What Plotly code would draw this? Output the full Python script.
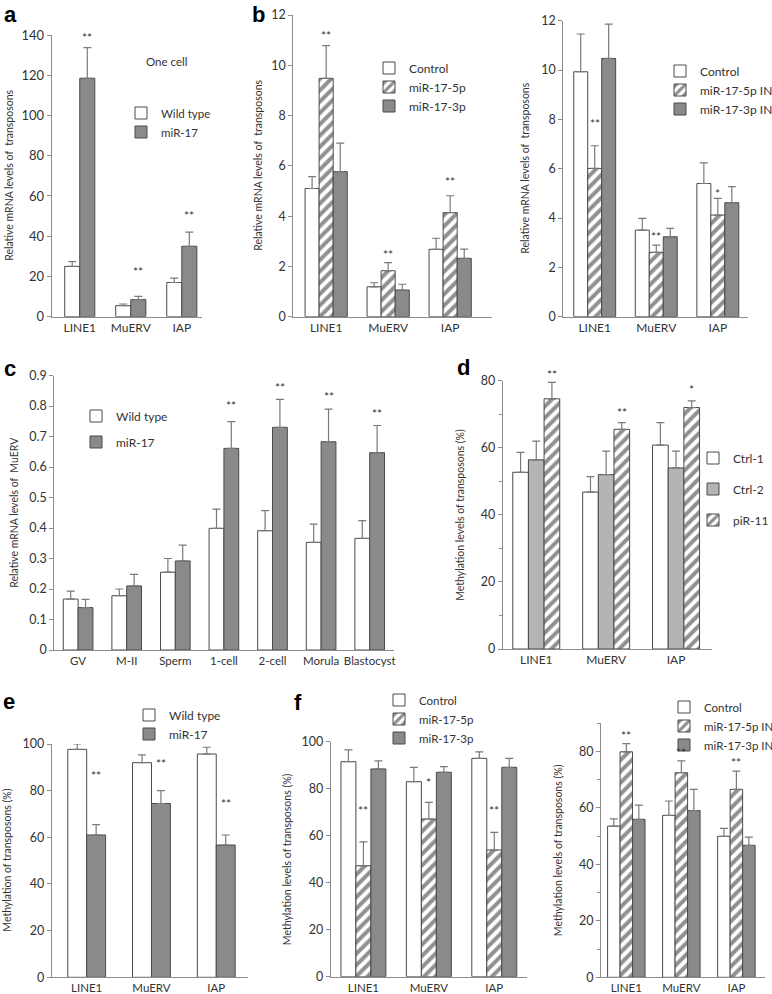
import plotly.graph_objects as go

W, H = 772, 994
FONT = "Lato"
TXT = "#333333"
AXC = "#8c8c8c"
EDGE = "#4a4a4a"

# ---------------- data ----------------
genes = ["LINE1", "MuERV", "IAP"]
stages = ["GV", "M-II", "Sperm", "1-cell", "2-cell", "Morula", "Blastocyst"]

# panel a
a_names = ["Wild type", "miR-17"]
a_wt = [25, 5.5, 17]
a_wt_err = [2.4, 0.8, 2.2]
a_mir = [118.5, 8.5, 35]
a_mir_err = [15.2, 1.6, 7.0]
a_star = ["**", "**", "**"]
a_star_y = [140, 24, 52]

# panel b (left)
bl_names = ["Control", "miR-17-5p", "miR-17-3p"]
bl_ctrl = [5.1, 1.19, 2.68]
bl_ctrl_err = [0.47, 0.16, 0.44]
bl_5p = [9.48, 1.83, 4.14]
bl_5p_err = [1.3, 0.32, 0.67]
bl_3p = [5.77, 1.06, 2.32]
bl_3p_err = [1.13, 0.23, 0.37]
bl_star = ["**", "**", "**"]
bl_star_y = [11.3, 2.6, 5.5]

# panel b (right)
br_names = ["Control", "miR-17-5p IN", "miR-17-3p IN"]
br_ctrl = [9.93, 3.51, 5.4]
br_ctrl_err = [1.53, 0.48, 0.84]
br_5p = [6.01, 2.61, 4.12]
br_5p_err = [0.92, 0.29, 0.68]
br_3p = [10.47, 3.24, 4.62]
br_3p_err = [1.39, 0.34, 0.65]
br_star = ["**", "**", "*"]
br_star_y = [7.95, 3.38, 5.1]

# panel c
c_names = ["Wild type", "miR-17"]
c_wt = [0.167, 0.178, 0.255, 0.399, 0.391, 0.353, 0.366]
c_wt_err = [0.026, 0.022, 0.045, 0.063, 0.066, 0.06, 0.058]
c_mir = [0.139, 0.21, 0.292, 0.661, 0.73, 0.683, 0.647]
c_mir_err = [0.027, 0.038, 0.052, 0.088, 0.092, 0.107, 0.089]
c_star = ["", "", "", "**", "**", "**", "**"]
c_star_y = [0, 0, 0, 0.81, 0.87, 0.84, 0.785]

# panel d
d_names = ["Ctrl-1", "Ctrl-2", "piR-11"]
d_c1 = [52.7, 46.8, 60.8]
d_c1_err = [5.9, 4.6, 6.7]
d_c2 = [56.4, 52, 54]
d_c2_err = [5.6, 7, 5]
d_pir = [74.6, 65.5, 72]
d_pir_err = [4.9, 2, 2]
d_star = ["**", "**", "*"]
d_star_y = [82.7, 71.3, 78.2]

# panel e
e_names = ["Wild type", "miR-17"]
e_wt = [97.7, 92, 95.7]
e_wt_err = [2.3, 3.3, 2.9]
e_mir = [61, 74.5, 56.7]
e_mir_err = [4.4, 5.5, 4.3]
e_star = ["**", "**", "**"]
e_star_y = [87.7, 93, 75.7]

# panel f (left)
fl_names = ["Control", "miR-17-5p", "miR-17-3p"]
fl_ctrl = [91.5, 83, 92.9]
fl_ctrl_err = [5, 6.1, 2.8]
fl_5p = [47.2, 67.1, 53.9]
fl_5p_err = [10.2, 7.1, 7.5]
fl_3p = [88.4, 87, 89.1]
fl_3p_err = [3.4, 2.4, 3.8]
fl_star = ["**", "*", "**"]
fl_star_y = [72, 84, 72]

# panel f (right)
fr_names = ["Control", "miR-17-5p IN", "miR-17-3p IN"]
fr_ctrl = [53.5, 57.3, 49.9]
fr_ctrl_err = [2.6, 5.1, 2.8]
fr_5p = [79.8, 72.4, 66.5]
fr_5p_err = [2.9, 4.2, 6.5]
fr_3p = [55.9, 59, 46.7]
fr_3p_err = [5, 7.5, 2.9]
fr_star = ["**", "**", "**"]
fr_star_y = [86.6, 80.7, 77.2]

# ---------------- styles ----------------
def style(kind):
    line = dict(color=EDGE, width=1)
    if kind == "white":
        return dict(color="white", line=line)
    if kind == "gray":
        return dict(color="#8a8a8a", line=line)
    if kind == "light":
        return dict(color="#b4b4b4", line=line)
    return dict(color="white", line=line,
                pattern=dict(shape="/", fgcolor="#222222", bgcolor="white",
                             size=8, solidity=0.5))

fig = go.Figure()
annotations = []
layout = dict(width=W, height=H,
              margin=dict(l=0, r=0, t=0, b=0, pad=0, autoexpand=False),
              paper_bgcolor="white", plot_bgcolor="white", showlegend=True,
              barmode="overlay", font=dict(family=FONT, color=TXT))


def add_panel(k, cats, series, xpx, ypx, xrange, yrange, dtick, bw,
              stars, star_y, star_idx, ytitle, title_x, leg, tickfs=12.5,
              titlefs=10.5, xfs=12, minor=False, legfs=12, leggap=0,
              legdx=34):
    ax = "" if k == 1 else str(k)
    xa, ya = "x" + ax, "y" + ax
    lg = "legend" + ax
    n = len(series)
    x0, x1 = xpx
    y0, y1 = ypx
    ppu = (y1 - y0) / (yrange[1] - yrange[0])
    for i, (name, vals, errs, kind) in enumerate(series):
        off = -n * bw / 2 + i * bw
        fig.add_trace(go.Bar(
            x=cats, y=vals, name=name, width=bw, offset=off,
            marker=style(kind), xaxis=xa, yaxis=ya, legend=lg,
            legendgroup=f"{k}-{i}",
            error_y=dict(type="data", array=errs, arrayminus=[0] * len(errs),
                         symmetric=False, color="#7a7a7a", thickness=1.2,
                         width=4)))
    # significance stars
    for j, (s, sy) in enumerate(zip(stars, star_y)):
        if not s:
            continue
        cx = j - n * bw / 2 + (star_idx + 0.5) * bw
        ytop = min(sy, yrange[1])
        annotations.append(dict(x=cx, y=ytop, xref=xa, yref=ya, text=s,
                                showarrow=False, xanchor="center",
                                yanchor="middle",
                                yshift=-3 + (sy - ytop) * ppu,
                                font=dict(size=12, color=TXT)))
    layout["xaxis" + ax] = dict(
        domain=[x0 / W, x1 / W], anchor=ya, range=xrange, type="category",
        showline=True, linecolor=AXC, linewidth=1, ticks="", showgrid=False,
        zeroline=False, tickangle=0, automargin=False,
        tickfont=dict(size=xfs, color=TXT))
    yax = dict(domain=[1 - y1 / H, 1 - y0 / H], anchor=xa, range=yrange,
               dtick=dtick, tick0=0, showline=True, linecolor=AXC, linewidth=1,
               ticks="outside", ticklen=4, tickcolor=AXC, showgrid=False,
               zeroline=False, automargin=False,
               tickfont=dict(size=tickfs, color=TXT))
    if minor:
        yax["minor"] = dict(ticks="outside", ticklen=3, dtick=dtick / 2,
                            tickcolor=AXC)
    layout["yaxis" + ax] = yax
    annotations.append(dict(x=title_x / W, y=1 - (y0 + y1) / 2 / H,
                            xref="paper", yref="paper", text=ytitle,
                            textangle=-90, showarrow=False,
                            xanchor="center", yanchor="middle",
                            font=dict(size=titlefs, color=TXT)))
    tx, cy = leg
    layout[lg] = dict(x=(tx - legdx) / W, y=1 - (cy - 14.5) / H,
                      xanchor="left", yanchor="top",
                      bgcolor="rgba(0,0,0,0)", borderwidth=0,
                      font=dict(size=legfs, color=TXT), itemwidth=30,
                      tracegroupgap=leggap, traceorder="grouped")


T1 = "Relative mRNA levels of  transposons"
T2 = "Methylation levels of transposons (%)"

add_panel(1, genes,
          [(a_names[0], a_wt, a_wt_err, "white"),
           (a_names[1], a_mir, a_mir_err, "gray")],
          (51.7, 201.7), (35, 316.7), [-0.55, 2.39], [0, 140], 20, 0.295,
          a_star, a_star_y, 1, T1, 9, (155, 113), tickfs=13, legfs=11.5)

add_panel(2, genes,
          [(bl_names[0], bl_ctrl, bl_ctrl_err, "white"),
           (bl_names[1], bl_5p, bl_5p_err, "hatch"),
           (bl_names[2], bl_3p, bl_3p_err, "gray")],
          (293.3, 491.7), (15, 316.7), [-0.53, 2.67], [0, 12], 2, 0.227,
          bl_star, bl_star_y, 1, T1, 258, (403, 68))

add_panel(3, genes,
          [(br_names[0], br_ctrl, br_ctrl_err, "white"),
           (br_names[1], br_5p, br_5p_err, "hatch"),
           (br_names[2], br_3p, br_3p_err, "gray")],
          (563.3, 748), (20.7, 316.7), [-0.51, 2.49], [0, 12], 2, 0.227,
          br_star, br_star_y, 1, T1, 525, (697, 71), legdx=37)

add_panel(4, stages,
          [(c_names[0], c_wt, c_wt_err, "white"),
           (c_names[1], c_mir, c_mir_err, "gray")],
          (54.3, 394), (375.5, 650), [-0.49, 6.5], [0, 0.9], 0.1, 0.305,
          c_star, c_star_y, 1, "Relative mRNA levels of  MuERV", 14,
          (110, 416), leggap=7, xfs=11.5)

add_panel(5, genes,
          [(d_names[0], d_c1, d_c1_err, "white"),
           (d_names[1], d_c2, d_c2_err, "light"),
           (d_names[2], d_pir, d_pir_err, "hatch")],
          (502.7, 711.7), (380.7, 649), [-0.48, 2.51], [0, 80], 20, 0.224,
          d_star, d_star_y, 2, T2, 460, (730, 458), minor=True, leggap=12,
          legdx=37)

add_panel(6, genes,
          [(e_names[0], e_wt, e_wt_err, "white"),
           (e_names[1], e_mir, e_mir_err, "gray")],
          (51.7, 248), (744, 977.3), [-0.54, 2.49], [0, 100], 20, 0.292,
          e_star, e_star_y, 1, "Methylation of transposons (%)", 7,
          (163, 715), xfs=11.5)

add_panel(7, genes,
          [(fl_names[0], fl_ctrl, fl_ctrl_err, "white"),
           (fl_names[1], fl_5p, fl_5p_err, "hatch"),
           (fl_names[2], fl_3p, fl_3p_err, "gray")],
          (330.7, 527), (741.7, 976.7), [-0.5, 2.5], [0, 100], 20, 0.229,
          fl_star, fl_star_y, 1, T2, 287, (417, 700), legfs=11.5, xfs=11.5,
          legdx=38)

add_panel(8, genes,
          [(fr_names[0], fr_ctrl, fr_ctrl_err, "white"),
           (fr_names[1], fr_5p, fr_5p_err, "hatch"),
           (fr_names[2], fr_3p, fr_3p_err, "gray")],
          (601, 765), (723, 977.3), [-0.46, 2.52], [0, 90], 20, 0.227,
          fr_star, fr_star_y, 1, T2, 558, (704, 707), minor=True, xfs=11.5,
          legfs=11.5, legdx=40)

# "One cell" note in panel a
annotations.append(dict(x=166 / W, y=1 - 62 / H, xref="paper", yref="paper",
                        text="One cell", showarrow=False, xanchor="center",
                        yanchor="middle", font=dict(size=11.5, color=TXT)))

# panel letters
for lab, px, py in [("a", 10, 0), ("b", 258, 0), ("c", 10, 354),
                    ("d", 463, 353), ("e", 9, 687), ("f", 298, 688)]:
    annotations.append(dict(x=px / W, y=1 - py / H, xref="paper", yref="paper",
                            text=f"<b>{lab}</b>", showarrow=False,
                            xanchor="center", yanchor="top",
                            font=dict(size=22, color="black",
                                      family="Liberation Sans")))

layout["annotations"] = annotations
fig.update_layout(**layout)
fig.write_html("out.html", config={"displayModeBar": False},
               post_script="document.body.style.margin='0';"
                           "document.body.style.overflow='hidden';")
